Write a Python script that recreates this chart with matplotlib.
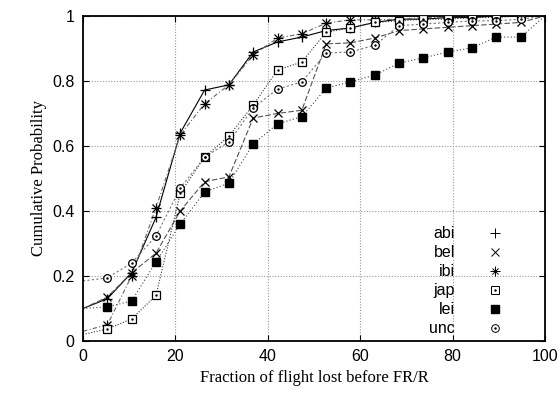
import matplotlib
matplotlib.use("Agg")
import matplotlib.pyplot as plt
from matplotlib.legend_handler import HandlerTuple
from matplotlib.lines import Line2D

# marker positions (every 100/19 percent) and CDF values
x_marks = [5.26, 10.53, 15.79, 21.05, 26.32, 31.58, 36.84, 42.11, 47.37,
           52.63, 57.89, 63.16, 68.42, 73.68, 78.95, 84.21, 89.47, 94.74]

abi = [0.13, 0.21, 0.38, 0.64, 0.772, 0.788, 0.889, 0.92, 0.935,
       0.955, 0.963, 0.98, 0.99, 0.99, 0.995, 0.995, 1.0, 1.0]
bel = [0.135, 0.21, 0.27, 0.40, 0.49, 0.505, 0.686, 0.70, 0.71,
       0.914, 0.917, 0.932, 0.955, 0.96, 0.965, 0.97, 0.975, 0.98]
ibi = [0.05, 0.20, 0.41, 0.634, 0.73, 0.788, 0.88, 0.932, 0.945,
       0.978, 0.988, 0.988, 0.99, 0.995, 0.995, 1.0, 1.0, 1.0]
jap = [0.037, 0.068, 0.14, 0.455, 0.566, 0.63, 0.726, 0.834, 0.858,
       0.95, 0.963, 0.98, 0.985, 0.99, 0.99, 0.995, 0.995, 1.0]
lei = [0.105, 0.123, 0.243, 0.36, 0.458, 0.486, 0.606, 0.668, 0.69,
       0.778, 0.797, 0.818, 0.855, 0.871, 0.889, 0.902, 0.935, 0.935]
unc = [0.194, 0.24, 0.323, 0.47, 0.566, 0.612, 0.717, 0.775, 0.797,
       0.886, 0.889, 0.91, 0.97, 0.975, 0.98, 0.985, 0.985, 0.99]

# value of each curve at x=0
start = {"abi": 0.10, "bel": 0.10, "ibi": 0.03, "jap": 0.02, "lei": 0.10, "unc": 0.185}

series = [
    ("abi", abi, "+", (0, ()), "black"),
    ("bel", bel, "x", (0, (5, 2)), "#555555"),
    ("ibi", ibi, "asterisk", (0, (4, 2, 1, 2)), "#666666"),
    ("jap", jap, "s", (0, (1, 1.5)), "#333333"),
    ("lei", lei, "sf", (0, (1, 2)), "#444444"),
    ("unc", unc, "o", (0, (2, 2)), "#777777"),
]

plt.rcParams["font.family"] = ["Liberation Sans", "DejaVu Sans"]

fig = plt.figure(figsize=(5.59, 3.98), dpi=100)
ax = fig.add_axes([0.1485, 0.1432, 0.8265, 0.8168])

handles = []
labels = []
for name, vals, mk, ls, col in series:
    xs = [0] + x_marks + [100]
    ys = [start[name]] + vals + [1.0]
    ax.plot(xs, ys, linestyle=ls, color=col, linewidth=0.8, zorder=2)
    if mk == "asterisk":
        ax.plot(x_marks, vals, linestyle="none", marker="+", ms=7.5, mew=0.9, color="black", zorder=3)
        ax.plot(x_marks, vals, linestyle="none", marker="x", ms=5.5, mew=0.9, color="black", zorder=3)
        h = (Line2D([], [], ls="none", marker="+", ms=7, mew=0.7, color="black"),
             Line2D([], [], ls="none", marker="x", ms=5, mew=0.7, color="black"))
    elif mk == "sf":
        ax.plot(x_marks, vals, linestyle="none", marker="s", ms=6.3, color="black", zorder=3)
        h = Line2D([], [], ls="none", marker="s", ms=6.3, color="black")
    elif mk in ("s", "o"):
        ax.plot(x_marks, vals, linestyle="none", marker=mk, ms=5.5, mfc="white", mec="black",
                mew=0.9, zorder=3)
        ax.plot(x_marks, vals, linestyle="none", marker=".", ms=1.5, color="black", zorder=4)
        h = (Line2D([], [], ls="none", marker=mk, ms=5.5, mfc="none", mec="black", mew=0.7),
             Line2D([], [], ls="none", marker=".", ms=1.5, color="black"))
    else:
        size = 7.5 if mk == "+" else 6
        ax.plot(x_marks, vals, linestyle="none", marker=mk, ms=size, mew=0.9, color="black", zorder=3)
        h = Line2D([], [], ls="none", marker=mk, ms=size, mew=0.7, color="black")
    handles.append(h)
    labels.append(name)

ax.set_xlim(0, 100)
ax.set_ylim(0, 1)
ax.set_xticks([0, 20, 40, 60, 80, 100])
ax.set_yticks([0, 0.2, 0.4, 0.6, 0.8, 1.0])
ax.set_yticklabels(["0", "0.2", "0.4", "0.6", "0.8", "1"])
ax.tick_params(direction="in", top=True, right=True, labelsize=11.5, length=4, pad=6)
ax.grid(True, color="#999999", linestyle=(0, (1, 1.5)), linewidth=0.8)
for sp in ax.spines.values():
    sp.set_linewidth(1.3)

ax.set_xlabel("Fraction of flight lost before FR/R", family="Liberation Serif", fontsize=12)
ax.set_ylabel("Cumulative Probability", family="Liberation Serif", fontsize=12)

ax.legend(handles, labels, loc="lower right", bbox_to_anchor=(0.94, -0.025),
          markerfirst=False, frameon=False, fontsize=11.5, handlelength=1.2,
          handletextpad=1.9, labelspacing=0.25, borderpad=0.3,
          handler_map={tuple: HandlerTuple(ndivide=1)})

fig.savefig("out.png", dpi=100)
